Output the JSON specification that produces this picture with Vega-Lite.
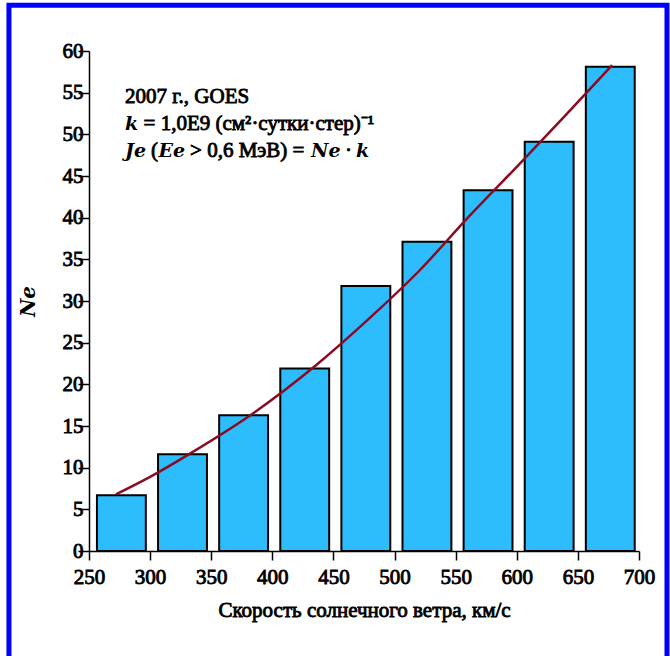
{
  "$schema": "https://vega.github.io/schema/vega-lite/v6.json",
  "width": 550,
  "height": 500,
  "autosize": {"type": "none"},
  "padding": {"left": 89, "top": 51, "right": 31, "bottom": 105},
  "background": "white",
  "config": {
    "view": {"stroke": null},
    "font": "Liberation Serif",
    "text": {"font": "Liberation Serif", "fontSize": 21, "fontWeight": "normal", "color": "black", "stroke": "black", "strokeWidth": 0.85, "align": "left", "baseline": "alphabetic"},
    "axis": {
      "grid": false,
      "domainColor": "black",
      "domainWidth": 1.5,
      "tickColor": "black",
      "tickWidth": 1.5,
      "labelFont": "Liberation Serif",
      "labelFontSize": 21,
      "labelFontWeight": "normal",
      "labelColor": "black",
      "labelFlush": false,
      "labelOverlap": false,
      "titleFont": "Liberation Serif",
      "titleFontSize": 21,
      "titleFontWeight": "normal",
      "titleColor": "black"
    }
  },
  "datasets": {
    "bars": [
      {"lo": 256.5, "hi": 296.5, "ne": 6.7},
      {"lo": 306.5, "hi": 346.5, "ne": 11.6},
      {"lo": 356.5, "hi": 396.5, "ne": 16.3},
      {"lo": 406.5, "hi": 446.5, "ne": 21.9},
      {"lo": 456.5, "hi": 496.5, "ne": 31.8},
      {"lo": 506.5, "hi": 546.5, "ne": 37.1},
      {"lo": 556.5, "hi": 596.5, "ne": 43.3},
      {"lo": 606.5, "hi": 646.5, "ne": 49.1},
      {"lo": 656.5, "hi": 696.5, "ne": 58.1}
    ],
    "fit": [
      {"v": 272, "ne": 6.8},
      {"v": 300, "ne": 8.9},
      {"v": 335, "ne": 11.9},
      {"v": 385, "ne": 16.6},
      {"v": 435, "ne": 22.2},
      {"v": 480, "ne": 28.0},
      {"v": 520, "ne": 33.6},
      {"v": 560, "ne": 40.0},
      {"v": 600, "ne": 46.1},
      {"v": 640, "ne": 52.3},
      {"v": 678, "ne": 58.3}
    ]
  },
  "data": {"values": [{}]},
  "layer": [
    {
      "mark": {"type": "rect", "fillOpacity": 0, "stroke": "#0000ff", "strokeWidth": 5},
      "encoding": {
        "x": {"datum": 184.5, "type": "quantitative", "scale": {"domain": [250, 700], "nice": false, "zero": false}},
        "x2": {"datum": 722.9},
        "y": {"datum": 65.5, "type": "quantitative", "scale": {"domain": [0, 60], "nice": false, "zero": false}},
        "y2": {"datum": -16}
      }
    },
    {
      "data": {"name": "bars"},
      "mark": {"type": "rect", "fill": "#2ebdfc", "stroke": "black", "strokeWidth": 2},
      "encoding": {
        "x": {
          "field": "lo", "type": "quantitative",
          "scale": {"domain": [250, 700], "nice": false, "zero": false},
          "axis": {
            "values": [250, 275, 300, 325, 350, 375, 400, 425, 450, 475, 500, 525, 550, 575, 600, 625, 650, 675, 700],
            "labelExpr": "datum.value % 50 === 0 ? datum.label : ''",
            "tickSize": {"condition": {"test": "datum.value % 50 === 0", "value": 9}, "value": 5},
            "labelPadding": 6,
            "title": "Скорость солнечного ветра, км/с",
            "titlePadding": 12,
            "encoding": {
              "labels": {"stroke": {"value": "black"}, "strokeWidth": {"value": 0.85}},
              "title": {"stroke": {"value": "black"}, "strokeWidth": {"value": 0.85}}
            }
          }
        },
        "x2": {"field": "hi"},
        "y": {
          "field": "ne", "type": "quantitative",
          "scale": {"domain": [0, 60], "nice": false, "zero": false},
          "axis": {
            "values": [0, 2.5, 5, 7.5, 10, 12.5, 15, 17.5, 20, 22.5, 25, 27.5, 30, 32.5, 35, 37.5, 40, 42.5, 45, 47.5, 50, 52.5, 55, 57.5, 60],
            "labelExpr": "datum.value % 5 === 0 ? datum.label : ''",
            "tickSize": {"condition": {"test": "datum.value % 5 === 0", "value": 11}, "value": 6},
            "labelPadding": -5,
            "title": "Ne",
            "titleFont": "DejaVu Serif",
            "titleFontSize": 20,
            "titleFontWeight": "bold",
            "titleFontStyle": "italic",
            "titlePadding": 24,
            "encoding": {
              "labels": {"stroke": {"value": "black"}, "strokeWidth": {"value": 0.85}}
            }
          }
        },
        "y2": {"datum": 0}
      }
    },
    {
      "data": {"name": "fit"},
      "mark": {"type": "line", "color": "#8b0b24", "strokeWidth": 2.5, "interpolate": "monotone"},
      "encoding": {
        "x": {"field": "v", "type": "quantitative", "scale": {"domain": [250, 700], "nice": false, "zero": false}},
        "y": {"field": "ne", "type": "quantitative", "scale": {"domain": [0, 60], "nice": false, "zero": false}}
      }
    },
    {
      "mark": {"type": "text", "text": "2007 г., GOES"},
      "encoding": {
        "x": {"datum": 279.5, "type": "quantitative", "scale": {"domain": [250, 700], "nice": false, "zero": false}},
        "y": {"datum": 53.76, "type": "quantitative", "scale": {"domain": [0, 60], "nice": false, "zero": false}}
      }
    },
    {
      "mark": {"type": "text", "text": "k", "font": "DejaVu Serif", "fontSize": 19, "fontWeight": "bold", "fontStyle": "italic", "strokeWidth": 0},
      "encoding": {
        "x": {"datum": 279.5, "type": "quantitative", "scale": {"domain": [250, 700], "nice": false, "zero": false}},
        "y": {"datum": 50.5, "type": "quantitative", "scale": {"domain": [0, 60], "nice": false, "zero": false}}
      }
    },
    {
      "mark": {"type": "text", "text": "= 1,0E9 (см²·сутки·стер)⁻¹", "dx": 18.5},
      "encoding": {
        "x": {"datum": 279.5, "type": "quantitative", "scale": {"domain": [250, 700], "nice": false, "zero": false}},
        "y": {"datum": 50.5, "type": "quantitative", "scale": {"domain": [0, 60], "nice": false, "zero": false}}
      }
    },
    {
      "mark": {"type": "text", "text": "Je", "font": "DejaVu Serif", "fontSize": 19, "fontWeight": "bold", "fontStyle": "italic", "strokeWidth": 0},
      "encoding": {
        "x": {"datum": 279.5, "type": "quantitative", "scale": {"domain": [250, 700], "nice": false, "zero": false}},
        "y": {"datum": 47.24, "type": "quantitative", "scale": {"domain": [0, 60], "nice": false, "zero": false}}
      }
    },
    {
      "mark": {"type": "text", "text": "(", "dx": 26},
      "encoding": {
        "x": {"datum": 279.5, "type": "quantitative", "scale": {"domain": [250, 700], "nice": false, "zero": false}},
        "y": {"datum": 47.24, "type": "quantitative", "scale": {"domain": [0, 60], "nice": false, "zero": false}}
      }
    },
    {
      "mark": {"type": "text", "text": "Ee", "dx": 33.5, "font": "DejaVu Serif", "fontSize": 19, "fontWeight": "bold", "fontStyle": "italic", "strokeWidth": 0},
      "encoding": {
        "x": {"datum": 279.5, "type": "quantitative", "scale": {"domain": [250, 700], "nice": false, "zero": false}},
        "y": {"datum": 47.24, "type": "quantitative", "scale": {"domain": [0, 60], "nice": false, "zero": false}}
      }
    },
    {
      "mark": {"type": "text", "text": "> 0,6 МэВ) =", "dx": 65},
      "encoding": {
        "x": {"datum": 279.5, "type": "quantitative", "scale": {"domain": [250, 700], "nice": false, "zero": false}},
        "y": {"datum": 47.24, "type": "quantitative", "scale": {"domain": [0, 60], "nice": false, "zero": false}}
      }
    },
    {
      "mark": {"type": "text", "text": "Ne", "dx": 186, "font": "DejaVu Serif", "fontSize": 19, "fontWeight": "bold", "fontStyle": "italic", "strokeWidth": 0},
      "encoding": {
        "x": {"datum": 279.5, "type": "quantitative", "scale": {"domain": [250, 700], "nice": false, "zero": false}},
        "y": {"datum": 47.24, "type": "quantitative", "scale": {"domain": [0, 60], "nice": false, "zero": false}}
      }
    },
    {
      "mark": {"type": "text", "text": "·", "dx": 220},
      "encoding": {
        "x": {"datum": 279.5, "type": "quantitative", "scale": {"domain": [250, 700], "nice": false, "zero": false}},
        "y": {"datum": 47.24, "type": "quantitative", "scale": {"domain": [0, 60], "nice": false, "zero": false}}
      }
    },
    {
      "mark": {"type": "text", "text": "k", "dx": 231, "font": "DejaVu Serif", "fontSize": 19, "fontWeight": "bold", "fontStyle": "italic", "strokeWidth": 0},
      "encoding": {
        "x": {"datum": 279.5, "type": "quantitative", "scale": {"domain": [250, 700], "nice": false, "zero": false}},
        "y": {"datum": 47.24, "type": "quantitative", "scale": {"domain": [0, 60], "nice": false, "zero": false}}
      }
    }
  ]
}
